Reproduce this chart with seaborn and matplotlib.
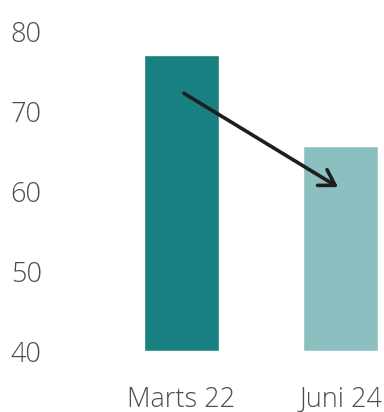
import matplotlib
matplotlib.use("Agg")
import matplotlib.pyplot as plt
import seaborn as sns
import pandas as pd

categories = ["Marts 22", "Juni 24"]
values = [77.0, 65.6]
bar_colors = ["#188080", "#8CBFBF"]
y_ticks = [40, 50, 60, 70, 80]
arrow_start = (0.0, 72.4)
arrow_end = (1.0, 60.3)

sns.set_theme(style="white")
plt.rcParams['font.family'] = ['Open Sans', 'DejaVu Sans']

df = pd.DataFrame({"cat": categories, "val": values})
fig = plt.figure(figsize=(3.84, 4.12), dpi=100)
ax = fig.add_axes([50/384, (412-351)/412, 1 - 50/384, (351-31)/412])
sns.barplot(data=df, x="cat", y="val", hue="cat", palette=bar_colors,
            saturation=1, width=0.47, legend=False, ax=ax)
# bars start at 40
for p, v in zip(ax.patches, values):
    p.set_y(40)
    p.set_height(v - 40)
ax.set_ylim(40, 80)
ax.set_xlim(-0.827, 1.274)
ax.set_yticks(y_ticks)
ax.set_yticklabels([str(t) for t in y_ticks])
ax.set_xlabel("")
ax.set_ylabel("")
for s in ax.spines.values():
    s.set_visible(False)
ax.tick_params(axis="y", length=0, pad=6, labelsize=19.5, labelcolor="#4d4d4d")
ax.tick_params(axis="x", length=0, pad=25, labelsize=19.5, labelcolor="#4d4d4d")
for lab in ax.get_xticklabels() + ax.get_yticklabels():
    lab.set_fontweight("light")
ax.annotate("", xy=arrow_end, xytext=arrow_start,
            arrowprops=dict(arrowstyle="->,head_length=0.9,head_width=0.55",
                            color="#1e1e1e", lw=2.6))
fig.savefig("out.png", dpi=100)
